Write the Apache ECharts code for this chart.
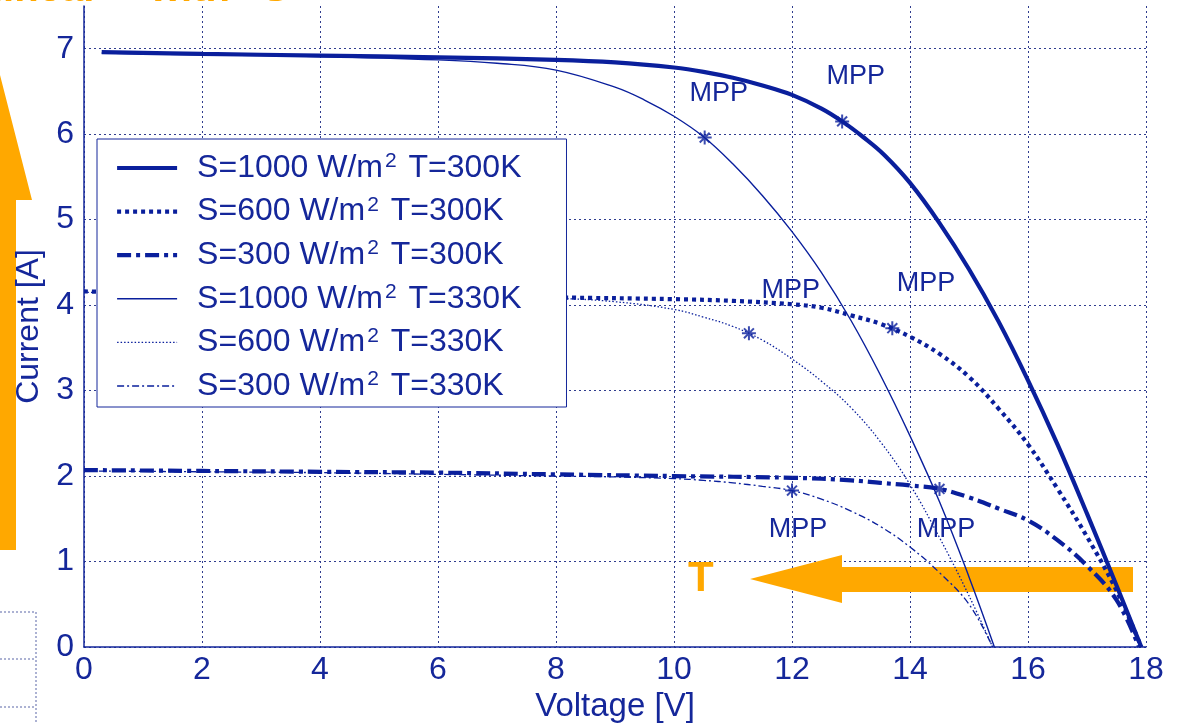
<!DOCTYPE html>
<html>
<head>
<meta charset="utf-8">
<script src="https://cdn.jsdelivr.net/npm/echarts@6/dist/echarts.min.js"></script>
<style>
html,body{margin:0;padding:0;background:#fff;}
#chart{width:1180px;height:724px;}
</style>
</head>
<body>
<div id="chart"></div>
<script>
// ---- data ----
const seriesNames = ['S=1000 W/m2 T=300K','S=600 W/m2 T=300K','S=300 W/m2 T=300K','S=1000 W/m2 T=330K','S=600 W/m2 T=330K','S=300 W/m2 T=330K'];
const irradiance = ['1000','600','300','1000','600','300'];
const temperature = ['300','300','300','330','330','330'];

const vS1000T300 = [0.3, 2, 4, 6, 8, 9, 10, 10.5, 11, 11.5, 12, 12.5, 12.85, 13.2, 13.56, 14, 14.5, 15, 15.5, 16, 16.5, 17, 17.5, 17.92];
const iS1000T300 = [6.96, 6.94, 6.92, 6.9, 6.87, 6.84, 6.78, 6.73, 6.66, 6.57, 6.46, 6.3, 6.15, 5.97, 5.76, 5.43, 4.96, 4.42, 3.81, 3.12, 2.37, 1.56, 0.72, 0];

const vS600T300 = [0, 2, 4, 6, 8, 10, 11, 12, 12.5, 13, 13.5, 14, 14.5, 15, 15.5, 16, 16.5, 17, 17.5, 17.92];
const iS600T300 = [4.16, 4.14, 4.13, 4.11, 4.09, 4.07, 4.05, 4.01, 3.97, 3.88, 3.78, 3.63, 3.43, 3.16, 2.79, 2.37, 1.85, 1.29, 0.66, 0];

const vS300T300 = [0, 2, 4, 6, 8, 10, 12, 13, 13.5, 14, 14.5, 15, 15.5, 16, 16.5, 17, 17.5, 17.88];
const iS300T300 = [2.07, 2.06, 2.05, 2.04, 2.02, 2.0, 1.98, 1.95, 1.92, 1.89, 1.85, 1.75, 1.62, 1.48, 1.25, 0.95, 0.55, 0];

const vS1000T330 = [0.3, 2, 4, 6, 7, 8, 9, 9.5, 10, 10.5, 11, 11.5, 12, 12.5, 13, 13.5, 14, 14.5, 15, 15.43];
const iS1000T330 = [6.95, 6.93, 6.91, 6.87, 6.83, 6.75, 6.55, 6.4, 6.21, 5.97, 5.65, 5.28, 4.86, 4.38, 3.82, 3.18, 2.47, 1.7, 0.82, 0];

const vS600T330 = [0, 2, 4, 6, 8, 9, 10, 10.5, 11, 11.5, 12, 12.5, 13, 13.5, 14, 14.5, 15, 15.4];
const iS600T330 = [4.15, 4.14, 4.13, 4.12, 4.08, 4.04, 3.95, 3.86, 3.75, 3.59, 3.37, 3.11, 2.8, 2.4, 1.9, 1.28, 0.6, 0];

const vS300T330 = [0, 2, 4, 6, 8, 9, 10, 10.5, 11, 11.5, 12, 12.5, 13, 13.5, 14, 14.5, 15, 15.4];
const iS300T330 = [2.06, 2.05, 2.04, 2.02, 2.0, 1.99, 1.97, 1.95, 1.92, 1.88, 1.83, 1.73, 1.59, 1.41, 1.17, 0.87, 0.5, 0];

const mppV = [10.52, 12.85, 11.27, 13.7, 12.0, 14.5];
const mppI = [5.96, 6.15, 3.67, 3.73, 1.83, 1.85];
const mppLabelV = [10.76, 13.08, 11.98, 14.27, 12.1, 14.61];
const mppLabelI = [6.47, 6.67, 4.17, 4.25, 1.37, 1.37];

// ---- styling ----
const blue = '#0a1f9c';
const textBlue = '#15279a';
const gridBlue = '#2f3c8e';
const orange = '#ffa800';
const font = '"Liberation Sans", Arial, sans-serif';

function pairs(xs, ys){ return xs.map((x,i)=>[x, ys[i]]); }

const curveData = [
  pairs(vS1000T300, iS1000T300), pairs(vS600T300, iS600T300), pairs(vS300T300, iS300T300),
  pairs(vS1000T330, iS1000T330), pairs(vS600T330, iS600T330), pairs(vS300T330, iS300T330)
];
const curveStyles = [
  {width: 4.2, type: 'solid'},
  {width: 4.2, type: [4, 4]},
  {width: 4.2, type: [14, 5, 4, 5]},
  {width: 1.4, type: 'solid'},
  {width: 1.3, type: [1.5, 2]},
  {width: 1.3, type: [7, 3, 2, 3]}
];

const series = curveData.map((d, k) => ({
  name: seriesNames[k],
  type: 'line',
  data: d,
  smooth: 0.4,
  symbol: 'none',
  lineStyle: Object.assign({color: blue, cap: 'butt'}, curveStyles[k]),
  itemStyle: {color: blue},
  z: 3
}));

const star = 'path://M-1,-7 L1,-7 L1,7 L-1,7 Z M-7,-1 L7,-1 L7,1 L-7,1 Z M-5.66,-4.24 L-4.24,-5.66 L5.66,4.24 L4.24,5.66 Z M4.24,-5.66 L5.66,-4.24 L-4.24,5.66 L-5.66,4.24 Z';

series.push({
  name: 'MPP points',
  type: 'scatter',
  data: pairs(mppV, mppI),
  symbol: star,
  symbolSize: 14,
  itemStyle: {color: blue},
  z: 5,
  silent: true
});
series.push({
  name: 'MPP labels',
  type: 'scatter',
  data: pairs(mppLabelV, mppLabelI),
  symbolSize: 0,
  itemStyle: {color: 'transparent'},
  label: {show: true, position: 'inside', formatter: 'MPP', color: textBlue, opacity: 1,
    textBorderWidth: 0, fontSize: 27, fontFamily: font},
  z: 5,
  silent: true
});

const chart = echarts.init(document.getElementById('chart'), null, {renderer: 'canvas'});
chart.setOption({
  backgroundColor: '#ffffff',
  animation: false,
  grid: {left: 84, right: 34, top: 6, bottom: 77, containLabel: false, outerBoundsMode: 'none'},
  xAxis: {
    type: 'value', min: 0, max: 18, interval: 2,
    name: 'Voltage [V]', nameLocation: 'middle', nameGap: 40,
    nameTextStyle: {color: textBlue, fontSize: 33, fontFamily: font},
    axisLine: {show: true, lineStyle: {color: textBlue, width: 1.5}},
    axisTick: {show: false},
    axisLabel: {color: textBlue, fontSize: 32, fontFamily: font, margin: 7},
    splitLine: {show: true, lineStyle: {color: gridBlue, width: 1, type: [2, 3]}}
  },
  yAxis: {
    type: 'value', min: 0, max: 7.5, interval: 1,
    name: 'Current [A]', nameLocation: 'middle', nameGap: 36,
    nameTextStyle: {color: textBlue, fontSize: 32, fontFamily: font},
    axisLine: {show: true, lineStyle: {color: textBlue, width: 1.5}},
    axisTick: {show: false},
    axisLabel: {color: textBlue, fontSize: 32, fontFamily: font, margin: 10, showMaxLabel: false,
      formatter: v => (Number.isInteger(v) ? String(v) : '')},
    splitLine: {show: true, showMaxLine: false, lineStyle: {color: gridBlue, width: 1, type: [2, 3]}}
  },
  legend: {
    data: seriesNames.map((n, k) => ({
      name: n,
      itemStyle: {opacity: 0},
      lineStyle: {color: blue, width: curveStyles[k].width, type: curveStyles[k].type, opacity: 1}
    })),
    orient: 'vertical',
    left: 97, top: 139,
    padding: [12, 45, 5, 18],
    itemWidth: 60, itemHeight: 14, itemGap: 10.6,
    backgroundColor: '#ffffff',
    borderColor: textBlue, borderWidth: 1, borderRadius: 0,
    selectedMode: false,
    itemStyle: {opacity: 0},
    formatter: function(name){
      const k = seriesNames.indexOf(name);
      return '{t|S=' + irradiance[k] + ' W/m}{sup|2}{t| T=' + temperature[k] + 'K}';
    },
    textStyle: {
      color: textBlue, fontFamily: font, fontSize: 32, padding: [0, 0, 0, 15],
      rich: {
        t: {color: textBlue, fontFamily: font, fontSize: 32, lineHeight: 34},
        sup: {color: textBlue, fontFamily: font, fontSize: 21, lineHeight: 30, verticalAlign: 'top', padding: [0, 3, 0, 2]}
      }
    }
  },
  graphic: [
    // orange annotations
    {type: 'text', left: -8, top: -30, style: {text: 'linear', fill: orange, font: 'bold 40px ' + font}},
    {type: 'text', left: 150, top: -30, style: {text: 'with', fill: orange, font: 'bold 40px ' + font}},
    {type: 'text', left: 262, top: -30, style: {text: 'S', fill: orange, font: 'bold 40px ' + font}},
    {type: 'polygon', shape: {points: [[0,75],[32,200],[16,200],[16,550],[-16,550],[-16,200],[-32,200]]}, style: {fill: orange}, z: 0},
    {type: 'polygon', shape: {points: [[750,579],[842,555],[842,567],[1133,567],[1133,592],[842,592],[842,603]]}, style: {fill: orange}, z: 1},
    {type: 'text', x: 688, y: 558, style: {text: 'T', fill: orange, font: 'bold 42px ' + font}},
    // fragments of a neighbouring table at bottom left
    {type: 'line', shape: {x1: 0, y1: 612, x2: 36, y2: 612}, style: {stroke: '#5a66a8', lineWidth: 1, lineDash: [2, 2]}},
    {type: 'line', shape: {x1: 0, y1: 659, x2: 36, y2: 659}, style: {stroke: '#5a66a8', lineWidth: 1, lineDash: [2, 2]}},
    {type: 'line', shape: {x1: 0, y1: 707, x2: 36, y2: 707}, style: {stroke: '#5a66a8', lineWidth: 1, lineDash: [2, 2]}},
    {type: 'line', shape: {x1: 36, y1: 612, x2: 36, y2: 724}, style: {stroke: '#5a66a8', lineWidth: 1, lineDash: [2, 2]}}
  ],
  series: series
});
</script>
</body>
</html>
